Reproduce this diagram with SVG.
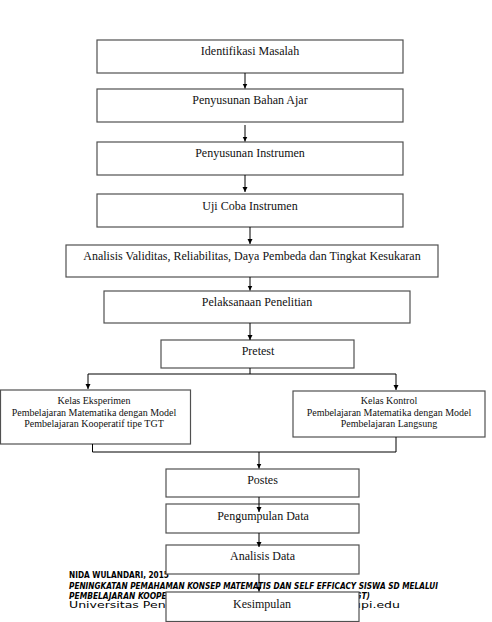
<svg xmlns="http://www.w3.org/2000/svg" width="492" height="622" viewBox="0 0 492 622">
<style>
.box{fill:#fff;stroke:#505050;stroke-width:1.2}
.t{font-family:"Liberation Serif","Times New Roman",serif;font-size:12px;fill:#111;text-anchor:middle}
.s{font-family:"Liberation Serif","Times New Roman",serif;font-size:10px;fill:#111;text-anchor:middle}
.c{fill:none;stroke:#000;stroke-width:1}
.f{font-family:"DejaVu Sans","Open Sans",sans-serif;font-size:8.5px;fill:#000}
</style>
<defs>
<marker id="ah" viewBox="0 0 10 10" refX="10" refY="5" markerWidth="5" markerHeight="6" markerUnits="userSpaceOnUse" orient="auto">
<path d="M0,0 L10,5 L0,10 Z" fill="#000"/>
</marker>
</defs>
<rect width="492" height="622" fill="#fff"/>
<g id="footer">
<text class="f" x="69" y="577.5" font-weight="bold" textLength="100" lengthAdjust="spacingAndGlyphs">NIDA WULANDARI, 2015</text>
<text class="f" x="69" y="589" font-weight="bold" font-style="italic" textLength="369" lengthAdjust="spacingAndGlyphs">PENINGKATAN PEMAHAMAN KONSEP MATEMATIS DAN SELF EFFICACY SISWA SD MELALUI</text>
<text class="f" x="69" y="598.5" font-weight="bold" font-style="italic" textLength="301" lengthAdjust="spacingAndGlyphs">PEMBELAJARAN KOOPERATIF TIPE TEAMS GAMES TOURNAMENTS (TGT)</text>
<text class="f" x="69" y="608" textLength="331" lengthAdjust="spacingAndGlyphs">Universitas Pendidikan Indonesia | repository.upi.edu</text>
</g>
<g id="n1"><rect class="box" x="97" y="40" width="306" height="33"/><text class="t" x="250" y="55">Identifikasi Masalah</text></g>
<g id="n2"><rect class="box" x="97" y="89" width="306" height="33"/><text class="t" x="250" y="104">Penyusunan Bahan Ajar</text></g>
<g id="n3"><rect class="box" x="97" y="142" width="306" height="33"/><text class="t" x="250" y="157">Penyusunan Instrumen</text></g>
<g id="n4"><rect class="box" x="97" y="194" width="306" height="33"/><text class="t" x="250" y="209.5">Uji Coba Instrumen</text></g>
<g id="n5"><rect class="box" x="66" y="245" width="372" height="32"/><text class="t" x="252" y="260">Analisis Validitas, Reliabilitas, Daya Pembeda dan Tingkat Kesukaran</text></g>
<g id="n6"><rect class="box" x="104" y="291" width="306" height="32"/><text class="t" x="257" y="305.5">Pelaksanaan Penelitian</text></g>
<g id="n7"><rect class="box" x="161" y="340" width="193" height="28"/><text class="t" x="258" y="354.5">Pretest</text></g>
<g id="n8"><rect class="box" x="0.5" y="390" width="190" height="54"/>
<text class="s" x="94" y="404">Kelas Eksperimen</text>
<text class="s" x="94" y="415.5">Pembelajaran Matematika dengan Model</text>
<text class="s" x="94" y="427">Pembelajaran Kooperatif tipe TGT</text></g>
<g id="n9"><rect class="box" x="293" y="391" width="192" height="46"/>
<text class="s" x="389" y="404">Kelas Kontrol</text>
<text class="s" x="389" y="415.5">Pembelajaran Matematika dengan Model</text>
<text class="s" x="389" y="427">Pembelajaran Langsung</text></g>
<g id="n10"><rect class="box" x="166" y="469" width="193" height="28"/><text class="t" x="262.5" y="484">Postes</text></g>
<g id="n11"><rect class="box" x="166" y="504" width="193" height="29"/><text class="t" x="263" y="520">Pengumpulan Data</text></g>
<g id="n12"><rect class="box" x="166" y="545" width="193" height="29"/><text class="t" x="262.5" y="560">Analisis Data</text></g>
<g id="n13"><rect class="box" x="166" y="592" width="193" height="29.5"/><text class="t" x="262" y="608">Kesimpulan</text></g>
<g id="connectors">
<line class="c" x1="245" y1="73" x2="245" y2="88.5" marker-end="url(#ah)"/>
<line class="c" x1="245" y1="125" x2="245" y2="141.5" marker-end="url(#ah)"/>
<line class="c" x1="245" y1="175" x2="245" y2="192" marker-end="url(#ah)"/>
<line class="c" x1="250" y1="227" x2="250" y2="244" marker-end="url(#ah)"/>
<line class="c" x1="250" y1="277" x2="250" y2="290.5" marker-end="url(#ah)"/>
<line class="c" x1="250" y1="323" x2="250" y2="340" marker-end="url(#ah)"/>
<polyline class="c" points="250,368 250,374"/>
<polyline class="c" points="88,374 396,374"/>
<line class="c" x1="88" y1="374" x2="88" y2="389" marker-end="url(#ah)"/>
<line class="c" x1="396" y1="374" x2="396" y2="390" marker-end="url(#ah)"/>
<polyline class="c" points="92.5,444 92.5,452 396,452 396,437"/>
<line class="c" x1="259" y1="452" x2="259" y2="468.5" marker-end="url(#ah)"/>
<line class="c" x1="259" y1="497" x2="259" y2="512" marker-end="url(#ah)"/>
<line class="c" x1="259" y1="533" x2="259" y2="547" marker-end="url(#ah)"/>
<line class="c" x1="259" y1="574" x2="259" y2="591.5" marker-end="url(#ah)"/>
</g>
</svg>
